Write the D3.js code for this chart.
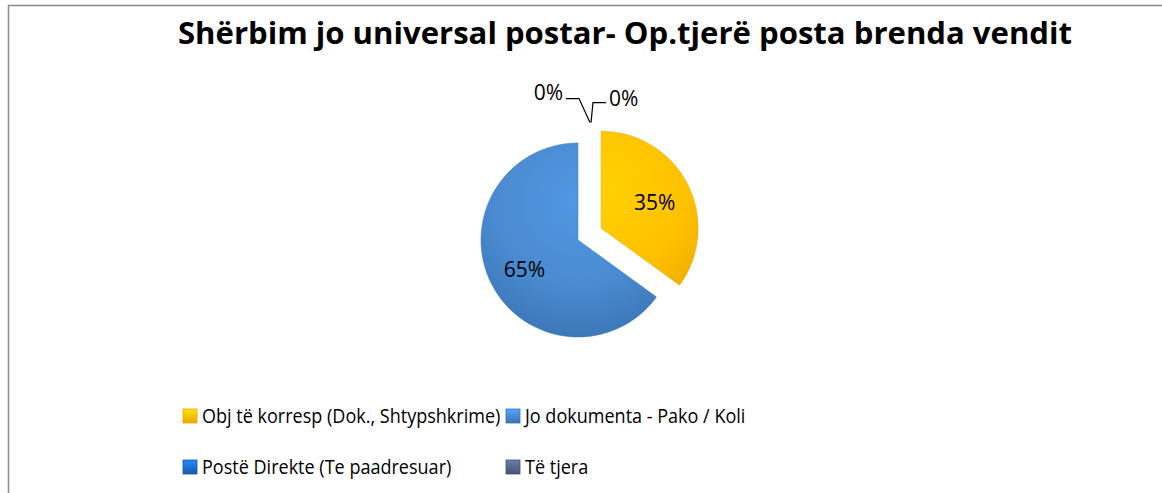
<!DOCTYPE html>
<html>
<head>
<meta charset="utf-8">
<script src="https://cdn.jsdelivr.net/npm/d3@7"></script>
<style>
  body { margin: 0; background: #fff; }
  svg { display: block; }
  text { font-family: "Open Sans", Lato, sans-serif; fill: #000; }
</style>
</head>
<body>
<div id="chart"></div>
<script>
// Data
const title = "Shërbim jo universal postar- Op.tjerë posta brenda vendit";
const categories = ["Obj të korresp (Dok., Shtypshkrime)", "Jo dokumenta - Pako / Koli", "Postë Direkte (Te paadresuar)", "Të tjera"];
const shares = [35, 65, 0, 0];
const colors = ["#FFC000", "#4A8AD0", "#1F74D4", "#58698C"];
const darkColors = ["#E8A800", "#3A73B3", "#1559AE", "#445473"];

// Dimensions
const width = 1162;
const height = 493;
const cx = 578, cy = 240;
const radius = 97;
const explode = 26;
const squeeze = 0.88; // narrow the text a bit (Calibri-like width)

const svg = d3.select("#chart")
  .append("svg")
  .attr("width", width)
  .attr("height", height);

// chart border
svg.append("rect")
  .attr("x", 8.5)
  .attr("y", 5.5)
  .attr("width", width + 20)
  .attr("height", height + 20)
  .attr("fill", "#fff")
  .attr("stroke", "#8a8a8a")
  .attr("stroke-width", 1.5);

// gradients for slices
const defs = svg.append("defs");
colors.forEach((c, i) => {
  const g = defs.append("radialGradient")
    .attr("id", "grad" + i)
    .attr("gradientUnits", "userSpaceOnUse")
    .attr("cx", 0).attr("cy", -radius * 0.4)
    .attr("r", radius * 1.5);
  g.append("stop").attr("offset", "0%").attr("stop-color", d3.color(c).brighter(0.25));
  g.append("stop").attr("offset", "60%").attr("stop-color", c);
  g.append("stop").attr("offset", "100%").attr("stop-color", darkColors[i]);

  const s = defs.append("linearGradient")
    .attr("id", "sw" + i)
    .attr("x1", 0).attr("y1", 0).attr("x2", 0).attr("y2", 1);
  s.append("stop").attr("offset", "0%").attr("stop-color", d3.color(c).brighter(0.5));
  s.append("stop").attr("offset", "100%").attr("stop-color", darkColors[i]);
});

// title
svg.append("text")
  .attr("x", 178)
  .attr("y", 44)
  .attr("textLength", 894)
  .attr("lengthAdjust", "spacingAndGlyphs")
  .style("font-size", "29.5px")
  .style("font-weight", "bold")
  .text(title);

// pie
const pie = d3.pie().sort(null).value(d => d);
const arcs = pie(shares);

const arc = d3.arc().innerRadius(0).outerRadius(radius);
const labelArc = d3.arc().innerRadius(radius * 0.62).outerRadius(radius * 0.62);
const outerArc = d3.arc().innerRadius(radius * 1.2).outerRadius(radius * 1.2);

const gPie = svg.append("g")
  .attr("transform", `translate(${cx}, ${cy})`);

function offset(d, i) {
  if (i !== 0) return [0, 0];
  const mid = (d.startAngle + d.endAngle) / 2;
  return [Math.sin(mid) * explode, -Math.cos(mid) * explode];
}

gPie.selectAll("path.slice")
  .data(arcs)
  .enter()
  .append("path")
  .attr("class", "slice")
  .attr("d", arc)
  .attr("transform", (d, i) => `translate(${offset(d, i)})`)
  .attr("fill", (d, i) => `url(#grad${i})`)
  .attr("stroke", (d, i) => darkColors[i])
  .attr("stroke-width", d => d.value > 0 ? 1 : 0)
  .attr("stroke-opacity", 0.5);

// value labels inside slices
gPie.selectAll("text.val")
  .data(arcs.filter(d => d.value > 0))
  .enter()
  .append("text")
  .attr("class", "val")
  .attr("transform", d => {
    const [x, y] = labelArc.centroid(d);
    const [ox, oy] = offset(d, d.index);
    return `translate(${x + ox}, ${y + oy + 2})`;
  })
  .attr("text-anchor", "middle")
  .attr("dy", "0.35em")
  .style("font-size", "21px")
  .text(d => d.value + "%");

// zero slices: labels with leader lines
const zeros = arcs.filter(d => d.value === 0);
zeros.forEach((d, k) => {
  const [ax, ay] = outerArc.centroid(d);
  const x0 = ax + 12, y0 = ay - 1;
  const side = k === 0 ? -1 : 1;
  const pts = side < 0
    ? [[x0, y0], [x0 - 11, y0 - 24], [x0 - 24, y0 - 24]]
    : [[x0 + 1, y0], [x0 + 3, y0 - 20], [x0 + 16, y0 - 20]];
  gPie.append("path")
    .attr("d", d3.line()(pts))
    .attr("fill", "none")
    .attr("stroke", "#000")
    .attr("stroke-width", 1.2);
  const end = pts[2];
  gPie.append("text")
    .attr("x", end[0] + side * 3)
    .attr("y", end[1] - (side < 0 ? 6 : 4))
    .attr("text-anchor", side < 0 ? "end" : "start")
    .attr("dy", "0.35em")
    .style("font-size", "21px")
    .text(d.value + "%");
});

// legend
const legendX = [183, 506];
const legendY = [416, 467];
const legend = svg.selectAll("g.legend")
  .data(categories)
  .enter()
  .append("g")
  .attr("class", "legend")
  .attr("transform", (d, i) => `translate(${legendX[i % 2]}, ${legendY[Math.floor(i / 2)]})`);

legend.append("rect")
  .attr("x", 0)
  .attr("y", -7)
  .attr("width", 14)
  .attr("height", 14)
  .attr("fill", (d, i) => `url(#sw${i})`)
  .attr("stroke", (d, i) => darkColors[i])
  .attr("stroke-width", 0.8);

legend.append("text")
  .attr("transform", `scale(${squeeze}, 1)`)
  .attr("x", 19 / squeeze)
  .attr("y", 0)
  .attr("dy", "0.35em")
  .style("font-size", "20.5px")
  .text(d => d);
</script>
</body>
</html>
